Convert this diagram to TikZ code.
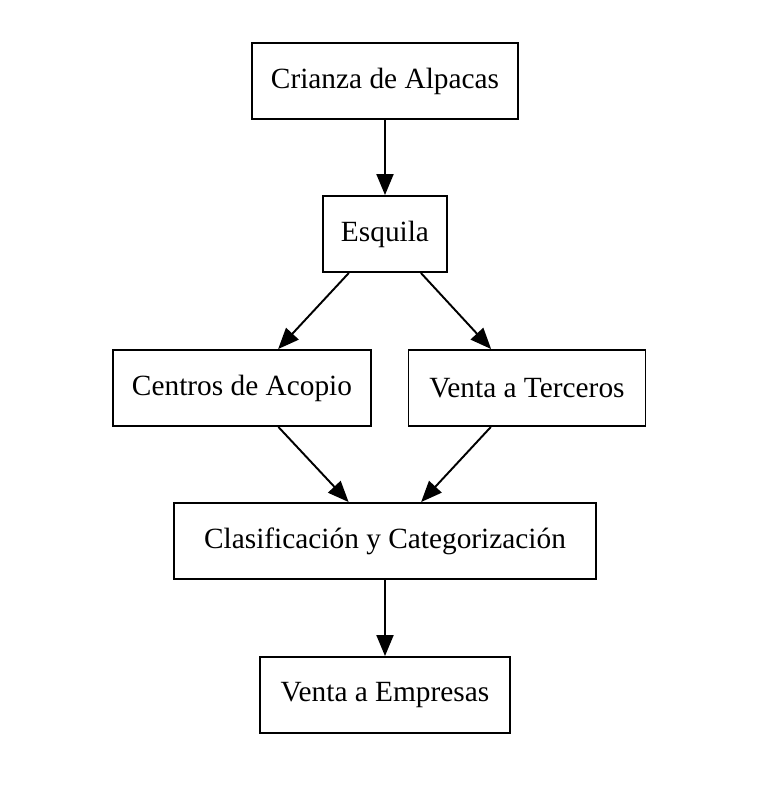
\documentclass[tikz,border=0pt]{standalone}
\usepackage{fontspec}
\setmainfont{Liberation Serif}
\usetikzlibrary{arrows.meta}

\tikzset{
  stepbox/.style={draw, line width=1.1pt, minimum height=1.52cm, inner xsep=0.36cm,
    font=\fontsize{16.7}{20}\selectfont},
  flow/.style={line width=1.1pt, -{Triangle[length=0.42cm, width=0.34cm]}}
}

\begin{document}
\begin{tikzpicture}[x=0.02cm, y=-0.02cm]
\useasboundingbox (0,0) rectangle (774,791);

\node[stepbox, minimum width=5.32cm] (crianza) at (385,81) {Crianza de Alpacas};
\node[stepbox, minimum width=2.48cm] (esquila) at (385,234) {Esquila};
\node[stepbox, minimum width=5.16cm] (acopio) at (242,388) {Centros de Acopio};
\node[stepbox, minimum width=4.74cm] (terceros) at (527,388) {Venta a Terceros};
\node[stepbox, minimum width=8.44cm] (clasif) at (385,541) {Clasificación y Categorización};
\node[stepbox, minimum width=5.00cm] (empresas) at (385,695) {Venta a Empresas};

\draw[flow] (crianza) -- (esquila);
\draw[flow] (esquila) -- (acopio);
\draw[flow] (esquila) -- (terceros);
\draw[flow] (acopio) -- (clasif);
\draw[flow] (terceros) -- (clasif);
\draw[flow] (clasif) -- (empresas);
\end{tikzpicture}
\end{document}
